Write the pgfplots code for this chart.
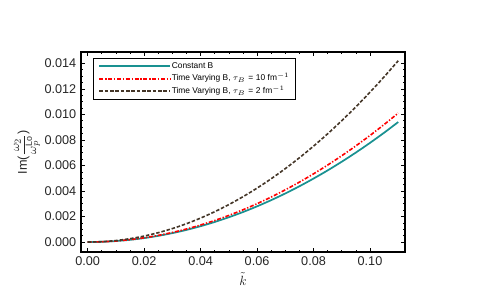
\documentclass[border=0pt]{standalone}
\usepackage{pgfplots}
\pgfplotsset{compat=1.18}
\usepackage{fontspec}
\setmainfont{Liberation Sans}
\definecolor{cteal}{RGB}{25,145,145}
\definecolor{cred}{RGB}{255,0,0}
\definecolor{cbrown}{RGB}{68,54,40}
\begin{document}
\begin{tikzpicture}
\path[use as bounding box] (-60.75pt,-35.25pt) rectangle (300.75pt,189pt);
\begin{axis}[
  at={(0pt,0pt)}, anchor=south west,
  scale only axis, width=243pt, height=150pt,
  xmin=-0.00237, xmax=0.1124, ymin=-0.00078, ymax=0.01489,
  xtick={0,0.02,0.04,0.06,0.08,0.10},
  xticklabels={0.00,0.02,0.04,0.06,0.08,0.10},
  ytick={0,0.002,0.004,0.006,0.008,0.010,0.012,0.014},
  yticklabels={0.000,0.002,0.004,0.006,0.008,0.010,0.012,0.014},
  minor x tick num=3, minor y tick num=3,
  tick align=inside,
  major tick length=3pt, minor tick length=1.6pt,
  tick style={black, line width=0.5pt},
  axis line style={black, line width=1pt},
  scaled ticks=false,
  /pgf/number format/assume math mode=true,
  ticklabel style={font=\fontsize{9.5}{11}\selectfont, text=black!85},
  xlabel={$\tilde{k}$},
  xlabel style={at={(axis description cs:0.5,-0.135)}, anchor=center, font=\fontsize{10}{12}\selectfont, text=black!85},
  ylabel={Im($\displaystyle\frac{\omega_2}{\omega^{\mathrm{Lo}}_{p}}$)},
  ylabel style={at={(axis description cs:-0.167,0.5)}, anchor=center, font=\fontsize{9.5}{11}\selectfont, text=black!85},
  legend cell align=left,
  legend image code/.code={\draw[#1] (0pt,0pt) -- (23pt,0pt); \path (0pt,0pt) -- (53pt,0pt);},
  legend style={at={(axis description cs:0.037,0.97)}, anchor=north west,
    font=\fontsize{6.3}{7}\selectfont,
    inner xsep=4pt, inner ysep=2.2pt, row sep=1.9pt,
    nodes={text height=4.8pt, text depth=1.5pt, inner sep=0.6pt}},
]
\addplot[cteal, line width=1.3pt, smooth] coordinates {
(0,0) (0.005,0.0000194) (0.01,0.0000777) (0.015,0.000175) (0.02,0.000311)
(0.025,0.000486) (0.03,0.000699) (0.035,0.000952) (0.04,0.001243) (0.045,0.001573)
(0.05,0.001943) (0.055,0.002350) (0.06,0.002797) (0.065,0.003283) (0.07,0.003807)
(0.075,0.004371) (0.08,0.004973) (0.085,0.005614) (0.09,0.006294) (0.095,0.007012)
(0.1,0.00777) (0.105,0.008566) (0.11,0.009402)};
\addlegendentry{Constant B}
\addplot[cred, line width=1.2pt, smooth, dash pattern=on 3pt off 1.3pt on 1pt off 1.3pt] coordinates {
(0,0) (0.005,0.0000209) (0.01,0.0000835) (0.015,0.000188) (0.02,0.000334)
(0.025,0.000522) (0.03,0.000752) (0.035,0.001023) (0.04,0.001336) (0.045,0.001691)
(0.05,0.002088) (0.055,0.002526) (0.06,0.003006) (0.065,0.003528) (0.07,0.004092)
(0.075,0.004697) (0.08,0.005344) (0.085,0.006033) (0.09,0.006764) (0.095,0.007536)
(0.1,0.00835) (0.105,0.009206) (0.11,0.010104)};
\addlegendentry{Time Varying B, $\tau_{B}$\,\,=\,\,10 fm$^{-1}$}
\addplot[cbrown, line width=1.2pt, smooth, dash pattern=on 2.6pt off 1.4pt] coordinates {
(0,0) (0.005,0.0000294) (0.01,0.0001174) (0.015,0.000264) (0.02,0.00047)
(0.025,0.000734) (0.03,0.001057) (0.035,0.001438) (0.04,0.001878) (0.045,0.002377)
(0.05,0.002935) (0.055,0.003551) (0.06,0.004226) (0.065,0.00496) (0.07,0.005753)
(0.075,0.006604) (0.08,0.007514) (0.085,0.008482) (0.09,0.009509) (0.095,0.010595)
(0.1,0.01174) (0.105,0.012943) (0.11,0.014205)};
\addlegendentry{Time Varying B, $\tau_{B}$\,\,=\,\,2 fm$^{-1}$}
\end{axis}
\end{tikzpicture}
\end{document}
